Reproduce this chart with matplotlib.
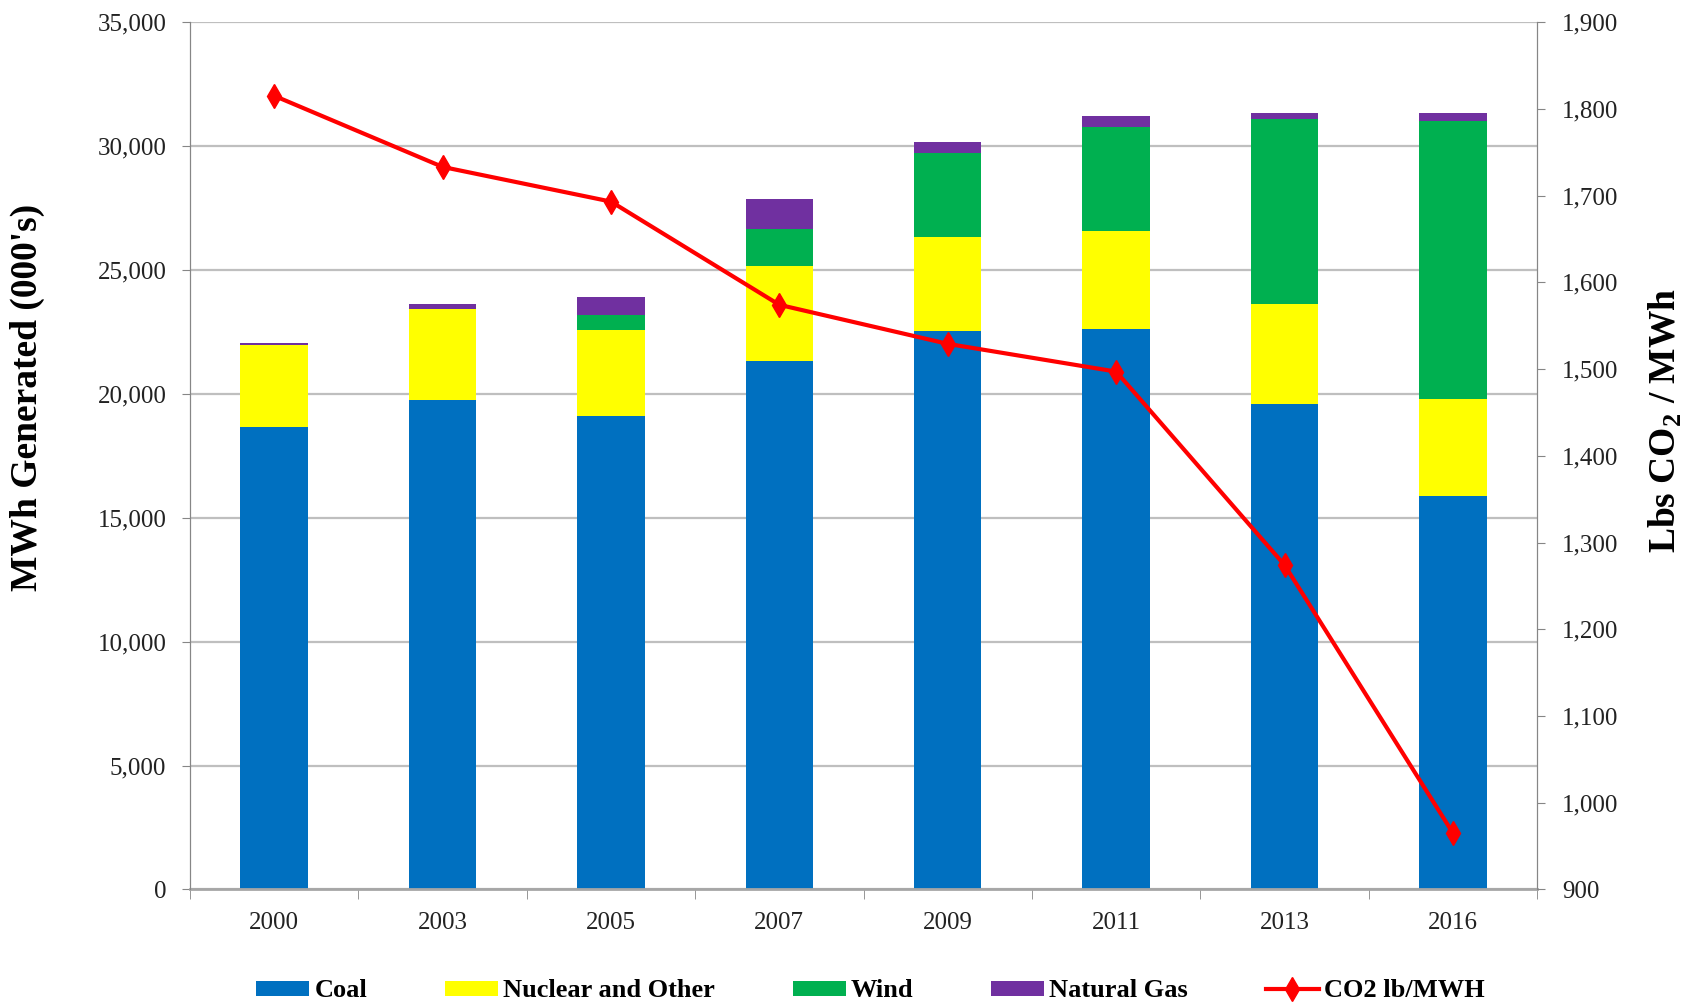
import matplotlib
matplotlib.use("Agg")
import matplotlib.pyplot as plt
import numpy as np
from matplotlib.ticker import FuncFormatter, FixedLocator

plt.rcParams['font.family'] = ['Liberation Serif', 'DejaVu Serif']
plt.rcParams['mathtext.fontset'] = 'custom'
plt.rcParams['mathtext.rm'] = 'Liberation Serif'
plt.rcParams['mathtext.bf'] = 'Liberation Serif:bold'

years = ['2000', '2003', '2005', '2007', '2009', '2011', '2013', '2016']
coal = [18660, 19750, 19100, 21320, 22530, 22600, 19570, 15870]
nuclear = [3300, 3680, 3460, 3830, 3810, 3970, 4040, 3930]
wind = [0, 0, 630, 1510, 3390, 4210, 7490, 11190]
natural_gas = [100, 180, 730, 1210, 410, 410, 250, 320]
co2 = [1815, 1733, 1693, 1574, 1529, 1497, 1274, 965]

colors = {'Coal': '#0070C0', 'Nuclear and Other': '#FFFF00',
          'Wind': '#00B050', 'Natural Gas': '#7030A0'}

fig = plt.figure(figsize=(16.84, 10.02), dpi=100)
ax = fig.add_axes([0.1128, 0.1123, 0.8, 0.8657])
x = np.arange(len(years))
w = 0.40

bottom = np.zeros(len(years))
handles = []
for name, vals in [('Coal', coal), ('Nuclear and Other', nuclear),
                   ('Wind', wind), ('Natural Gas', natural_gas)]:
    b = ax.bar(x, vals, w, bottom=bottom, color=colors[name], label=name, zorder=2)
    handles.append(b)
    bottom += np.array(vals)

ax.set_xlim(-0.5, len(years) - 0.5)
ax.set_ylim(0, 35000)
ax.set_yticks(np.arange(0, 35001, 5000))
ax.yaxis.set_major_formatter(FuncFormatter(lambda v, p: f'{int(v):,}'))
ax.set_axisbelow(True)
ax.grid(axis='y', color='#BFBFBF', linewidth=1.6, zorder=0)

ax.set_xticks(x)
ax.set_xticklabels(years)
ax.xaxis.set_minor_locator(FixedLocator(np.arange(-0.5, len(years), 1.0)))
ax.tick_params(axis='x', which='major', length=0, pad=16, labelsize=18, labelcolor='#222222')
ax.tick_params(axis='x', which='minor', length=7, color='#868686', direction='out')
ax.tick_params(axis='y', length=6, color='#868686', direction='out', pad=11,
               labelsize=18, labelcolor='#222222')

for s in ['left', 'right']:
    ax.spines[s].set_color('#868686')
ax.spines['top'].set_visible(False)
ax.spines['bottom'].set_color('#A6A6A6')
ax.spines['bottom'].set_linewidth(2)

ax.set_ylabel("MWh Generated (000's)", fontsize=27, fontweight='bold',
              va='center', ha='center')
ax.yaxis.set_label_coords(-0.121, 0.567)

ax2 = ax.twinx()
ln, = ax2.plot(x, co2, color='#FF0000', linewidth=3, marker='d', markersize=12,
               label='CO2 lb/MWH', zorder=3)
ax2.set_ylim(900, 1900)
ax2.set_yticks(np.arange(900, 1901, 100))
ax2.yaxis.set_major_formatter(FuncFormatter(lambda v, p: f'{int(v):,}'))
ax2.tick_params(axis='y', length=6, color='#868686', direction='out', pad=12,
                labelsize=18, labelcolor='#222222')
for s in ['left', 'right']:
    ax2.spines[s].set_color('#868686')
ax2.spines['top'].set_visible(False)
ax2.spines['bottom'].set_visible(False)
ax2.set_ylabel(r'Lbs CO$_\mathbf{2}$ / MWh', fontsize=27, fontweight='bold',
               va='center', ha='center')
ax2.yaxis.set_label_coords(1.095, 0.541)

leg = fig.legend(handles + [ln], ['Coal', 'Nuclear and Other', 'Wind', 'Natural Gas', 'CO2 lb/MWH'],
                 loc='center', bbox_to_anchor=(0.517, 0.011), ncol=5, frameon=False,
                 prop={'size': 19, 'weight': 'bold'}, handlelength=2.0, handleheight=0.5,
                 handletextpad=0.2, columnspacing=2.95, borderaxespad=0)

fig.savefig('out.png', dpi=100)
